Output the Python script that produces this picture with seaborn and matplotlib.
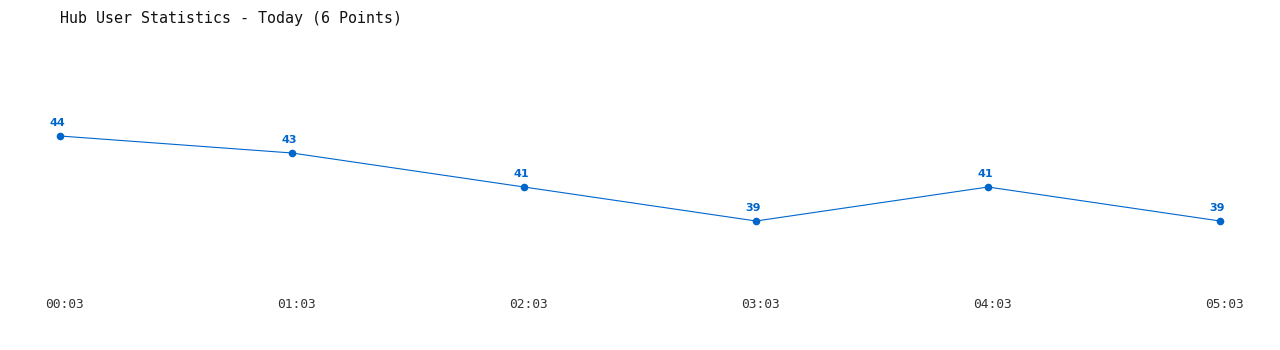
import matplotlib
matplotlib.use("Agg")
import matplotlib.pyplot as plt
import seaborn as sns
import pandas as pd
from matplotlib.transforms import offset_copy

times = ["00:03", "01:03", "02:03", "03:03", "04:03", "05:03"]
users = [44, 43, 41, 39, 41, 39]
title = "Hub User Statistics - Today (6 Points)"

sns.set_style("white")
plt.rcParams["font.family"] = ["DejaVu Sans"]

df = pd.DataFrame({"idx": range(len(times)), "users": users})

fig = plt.figure(figsize=(12.8, 3.5), dpi=100)
ax = fig.add_axes([60 / 1280, 60 / 350, 1160 / 1280, 250 / 350])
color = "#0066cc"
sns.lineplot(data=df, x="idx", y="users", ax=ax, color=color, linewidth=0.8,
             marker="o", markersize=5.5, markeredgewidth=0, markeredgecolor=color,
             clip_on=False)

ax.set_xlim(0, len(times) - 1)
ax.set_ylim(44 - 154 / 17, 44 + 96 / 17)
ax.set_xticks(range(len(times)))
ax.set_xticklabels(times, family="DejaVu Sans Mono", fontsize=9.3, color="#333333")
ax.tick_params(axis="x", length=0, pad=6)
for lab in ax.get_xticklabels():
    lab.set_transform(offset_copy(lab.get_transform(), fig=fig, x=4, y=0, units="dots"))
ax.set_yticks([])
ax.set_xlabel("")
ax.set_ylabel("")
for s in ax.spines.values():
    s.set_visible(False)
ax.patch.set_alpha(0)

for i, v in enumerate(users):
    ax.annotate(str(v), (i, v), xytext=(-2, 5.5), textcoords="offset points",
                ha="center", va="bottom", fontsize=8, fontweight="bold",
                color=color, annotation_clip=False)

fig.text(60 / 1280, 1 - 18 / 350, title, family="DejaVu Sans Mono",
         fontsize=10.8, color="#111111", va="center", ha="left")

fig.savefig("out.png", dpi=100)
